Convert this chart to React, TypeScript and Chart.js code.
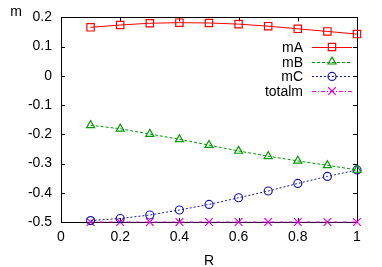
import React, { useEffect, useRef } from 'react';
import { Chart, registerables } from 'chart.js';
import { drawPoint } from 'chart.js/helpers';

Chart.register(...registerables);

const R = [0.1, 0.2, 0.3, 0.4, 0.5, 0.6, 0.7, 0.8, 0.9, 1.0];
const mA = [0.166, 0.174, 0.18, 0.182, 0.181, 0.177, 0.17, 0.161, 0.152, 0.143];
const mB = [-0.169, -0.181, -0.199, -0.217, -0.237, -0.257, -0.275, -0.291, -0.306, -0.322];
const mC = [-0.495, -0.488, -0.476, -0.459, -0.44, -0.417, -0.394, -0.368, -0.344, -0.322];
const totalm = [-0.5, -0.5, -0.5, -0.5, -0.5, -0.5, -0.5, -0.5, -0.5, -0.5];

const seriesNames = ['mA', 'mB', 'mC', 'totalm'];
const seriesValues = [mA, mB, mC, totalm];
const seriesColors = ['#ff0000', '#009a00', '#1a1aa6', '#e000e0'];
const seriesDash = [[], [3, 2], [2, 2], [4, 2, 1, 2]];
const seriesPoint = ['rect', 'triangle', 'circle', 'crossRot'];
const seriesRadius = [5.2, 4.6, 4, 5.4];

const xTitle = 'R';
const yTitle = 'm';
const FONT = "'Liberation Sans', Arial, sans-serif";

const fmt = (v: any) => String(parseFloat(Number(v).toFixed(2)));

const framePlugin = {
  id: 'frame',
  beforeDatasetsDraw(chart: any) {
    const { ctx, chartArea: a, scales } = chart;
    ctx.save();
    ctx.strokeStyle = '#000';
    ctx.lineWidth = 1;
    ctx.strokeRect(Math.round(a.left) + 0.5, Math.round(a.top) + 0.5, Math.round(a.right - a.left), Math.round(a.bottom - a.top));
    const tl = 4;
    ctx.beginPath();
    scales.x.ticks.forEach((t: any) => {
      const px = Math.round(scales.x.getPixelForValue(t.value)) + 0.5;
      ctx.moveTo(px, a.bottom);
      ctx.lineTo(px, a.bottom - tl);
      ctx.moveTo(px, a.top);
      ctx.lineTo(px, a.top + tl);
    });
    scales.y.ticks.forEach((t: any) => {
      const py = Math.round(scales.y.getPixelForValue(t.value)) + 0.5;
      ctx.moveTo(a.left, py);
      ctx.lineTo(a.left + tl, py);
      ctx.moveTo(a.right, py);
      ctx.lineTo(a.right - tl, py);
    });
    ctx.stroke();
    ctx.restore();
  },
  afterDraw(chart: any) {
    const { ctx, chartArea: a } = chart;
    ctx.save();
    ctx.fillStyle = '#000';
    ctx.font = `14px ${FONT}`;
    ctx.textAlign = 'center';
    ctx.textBaseline = 'alphabetic';
    ctx.fillText(yTitle, 16, 15.5);
    ctx.fillText(xTitle, (a.left + a.right) / 2, 265);
    // legend
    const textRight = 303;
    const lineL = 312;
    const lineR = 352;
    const y0 = 47;
    const dy = 14.7;
    chart.data.datasets.forEach((ds: any, i: number) => {
      const y = y0 + i * dy;
      ctx.fillStyle = '#000';
      ctx.textAlign = 'right';
      ctx.textBaseline = 'middle';
      ctx.fillText(ds.label, textRight, y + 1);
      ctx.strokeStyle = ds.borderColor;
      ctx.lineWidth = 1;
      ctx.setLineDash(ds.borderDash || []);
      ctx.beginPath();
      ctx.moveTo(lineL, Math.round(y) + 0.5);
      ctx.lineTo(lineR, Math.round(y) + 0.5);
      ctx.stroke();
      ctx.setLineDash([]);
      ctx.lineWidth = 1.2;
      ctx.fillStyle = 'rgba(0,0,0,0)';
      drawPoint(ctx, { pointStyle: ds.pointStyle, radius: ds.pointRadius, rotation: 0, borderWidth: 1.2 }, (lineL + lineR) / 2, y);
    });
    ctx.restore();
  },
};

export default function App() {
  const ref = useRef<HTMLCanvasElement>(null);
  useEffect(() => {
    if (!ref.current) return;
    const datasets = seriesNames.map((name, i) => ({
      label: name,
      data: R.map((x, j) => ({ x, y: seriesValues[i][j] })),
      borderColor: seriesColors[i],
      backgroundColor: 'transparent',
      borderWidth: 1,
      borderDash: seriesDash[i],
      pointStyle: seriesPoint[i],
      pointRadius: seriesRadius[i],
      pointBorderWidth: 1.2,
      pointBackgroundColor: 'transparent',
      pointBorderColor: seriesColors[i],
      tension: 0,
      fill: false,
      clip: false,
    }));
    const chart = new Chart(ref.current, {
      type: 'line',
      data: { datasets },
      options: {
        responsive: false,
        animation: false,
        devicePixelRatio: 1,
        layout: { padding: { top: 17, right: 25, left: 0, bottom: 0 } },
        plugins: { legend: { display: false }, tooltip: { enabled: false } },
        scales: {
          x: {
            type: 'linear',
            min: 0,
            max: 1,
            afterFit: (s: any) => { s.height = 45; },
            grid: { display: false, drawTicks: false },
            border: { display: false },
            ticks: { stepSize: 0.2, padding: 7, color: '#000', font: { family: FONT, size: 14 }, maxRotation: 0, callback: fmt },
          },
          y: {
            type: 'linear',
            min: -0.5,
            max: 0.2,
            afterFit: (s: any) => { s.width = 61; },
            grid: { display: false, drawTicks: false },
            border: { display: false },
            ticks: { stepSize: 0.1, padding: 9, color: '#000', font: { family: FONT, size: 14 }, callback: fmt },
          },
        },
      },
      plugins: [framePlugin],
    } as any);
    return () => chart.destroy();
  }, []);
  return (
    <div style={{ position: 'absolute', left: 0, top: 0, width: 382, height: 267, background: '#fff' }}>
      <canvas ref={ref} width={382} height={267} style={{ width: 382, height: 267 }} />
    </div>
  );
}
